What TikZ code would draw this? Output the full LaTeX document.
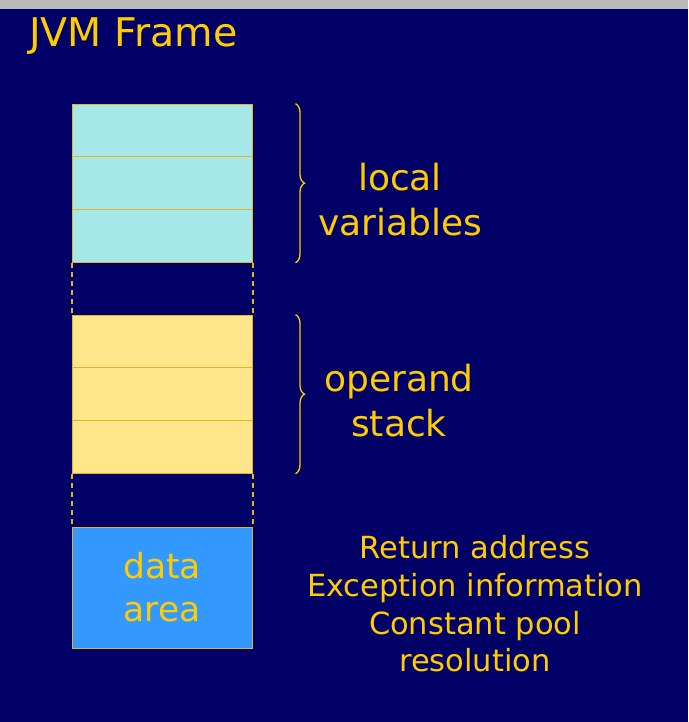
\documentclass[tikz,border=0pt]{standalone}
\usepackage{fontspec}
\setmainfont{DejaVu Sans}
\usetikzlibrary{positioning}
\usetikzlibrary{decorations.pathreplacing}

\definecolor{slidebg}{HTML}{000066}
\definecolor{slidegold}{HTML}{FFCC00}
\definecolor{framegold}{HTML}{E6B422}
\definecolor{localfill}{HTML}{A6E8E8}
\definecolor{stackfill}{HTML}{FFE68A}
\definecolor{datafill}{HTML}{3399FF}

\begin{document}
\begin{tikzpicture}[x=1pt,y=-1pt,
    cell/.style={draw=framegold, line width=1pt, minimum width=180pt,
        minimum height=52.7pt, inner sep=0pt},
    gapline/.style={draw=framegold, line width=2pt, dash pattern=on 5pt off 4pt},
    curly/.style={draw=slidegold, line width=1.3pt, decorate,
        decoration={brace, amplitude=9pt}},
    lbl/.style={text=slidegold, align=center, inner sep=0pt}]

% Slide background
\fill[slidebg] (0,0) rectangle (688,722);
\fill[gray!55] (0,0) rectangle (688,9);
\useasboundingbox (0,0) rectangle (688,722);

% Title
\node[lbl, anchor=base west, font=\fontsize{39.5}{46}\selectfont] (title)
    at (29,47) {JVM Frame};

% Local variables
\node[cell, fill=localfill] (lv1) at (162,130.5) {};
\node[cell, fill=localfill] (lv2) at (162,183.2) {};
\node[cell, fill=localfill] (lv3) at (162,235.9) {};

% Operand stack
\node[cell, fill=stackfill] (op1) at (162,341.5) {};
\node[cell, fill=stackfill] (op2) at (162,394.2) {};
\node[cell, fill=stackfill] (op3) at (162,446.9) {};

% Data area
\node[cell, fill=datafill, minimum height=121pt] (data) at (162,587.5) {};
\node[lbl, font=\fontsize{34.5}{43}\selectfont] (datatxt) at (data) {data\\area};

% Gaps between the parts
\draw[gapline] (lv3.south west) -- (op1.north west);
\draw[gapline] (lv3.south east) -- (op1.north east);
\draw[gapline] (op3.south west) -- (data.north west);
\draw[gapline] (op3.south east) -- (data.north east);

% Braces and their labels
\coordinate (lvtop) at ([xshift=43pt]lv1.north east);
\coordinate (lvbot) at ([xshift=43pt]lv3.south east);
\coordinate (optop) at ([xshift=43pt]op1.north east);
\coordinate (opbot) at ([xshift=43pt]op3.south east);
\draw[curly] (lvtop) -- (lvbot);
\draw[curly] (optop) -- (opbot);

\node[lbl, font=\fontsize{36}{45}\selectfont] (lvtxt) at (400,200)
    {local\\variables};
\node[lbl, font=\fontsize{36}{45}\selectfont] (optxt) at (399,401)
    {operand\\stack};

% Contents of the data area
\node[lbl, font=\fontsize{30.5}{37.7}\selectfont] (infotxt) at (475,604)
    {Return address\\Exception information\\Constant pool\\resolution};
\end{tikzpicture}
\end{document}
